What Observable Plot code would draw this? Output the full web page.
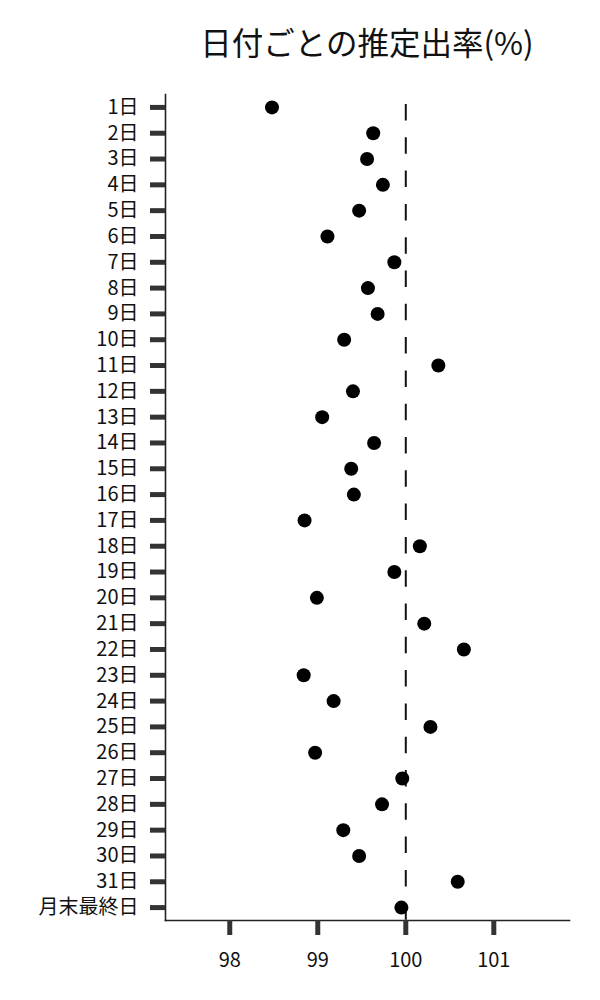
<!DOCTYPE html>
<html><head><meta charset="utf-8">
<script src="https://cdn.jsdelivr.net/npm/d3@7"></script>
<script src="https://cdn.jsdelivr.net/npm/@observablehq/plot@0.6"></script>
<style>
body{margin:0;background:#fff;font-family:"Noto Sans CJK JP","Noto Sans CJK SC",sans-serif;}
#title{height:80px;box-sizing:border-box;padding:23px 31px 0 165px;text-align:center;font-size:31.5px;line-height:36px;color:#111;font-weight:normal;}
#chart svg{display:block;}
</style></head><body>
<div id="title">日付ごとの推定出率(%)</div>
<div id="chart"></div>
<script>
const dayLabels = ["1日","2日","3日","4日","5日","6日","7日","8日","9日","10日","11日","12日","13日","14日","15日","16日","17日","18日","19日","20日","21日","22日","23日","24日","25日","26日","27日","28日","29日","30日","31日","月末最終日"];
const rateValues = [98.48,99.63,99.56,99.74,99.47,99.11,99.87,99.57,99.68,99.30,100.37,99.40,99.05,99.64,99.38,99.41,98.85,100.16,99.87,98.99,100.21,100.66,98.84,99.18,100.28,98.97,99.96,99.73,99.29,99.47,100.59,99.95];
const xTicks = [98, 99, 100, 101];
const xDomain = [97.27, 101.86];
const refValue = [100];

const data = dayLabels.map((d, i) => ({day: d, value: rateValues[i]}));

const chart = Plot.plot({
  width: 600, height: 920,
  marginLeft: 165, marginRight: 31, marginTop: 14, marginBottom: 80,
  style: {fontFamily: '"Noto Sans CJK JP","Noto Sans CJK SC",sans-serif', fontSize: "20px", color: "#111", background: "white"},
  x: {domain: xDomain, label: null},
  y: {type: "band", domain: dayLabels, padding: 0, round: false, label: null},
  marks: [
    Plot.frame({anchor: "left", stroke: "#222", strokeWidth: 1.6}),
    Plot.frame({anchor: "bottom", stroke: "#222", strokeWidth: 1.6}),
    Plot.axisX({ticks: xTicks, tickFormat: d3.format("d"), tickSize: 15, tickPadding: 17, strokeWidth: 5, stroke: "#333", fill: "#111", label: null}),
    Plot.axisY({tickSize: 15, tickPadding: 12, strokeWidth: 5, stroke: "#333", fill: "#111", label: null}),
    Plot.ruleX(refValue, {stroke: "#111", strokeWidth: 2, strokeDasharray: "16.5,16.8", strokeDashoffset: 23.3}),
    Plot.dot(data, {x: "value", y: "day", r: 7, fill: "black"})
  ]
});
document.getElementById("chart").appendChild(chart);
</script>
</body></html>
